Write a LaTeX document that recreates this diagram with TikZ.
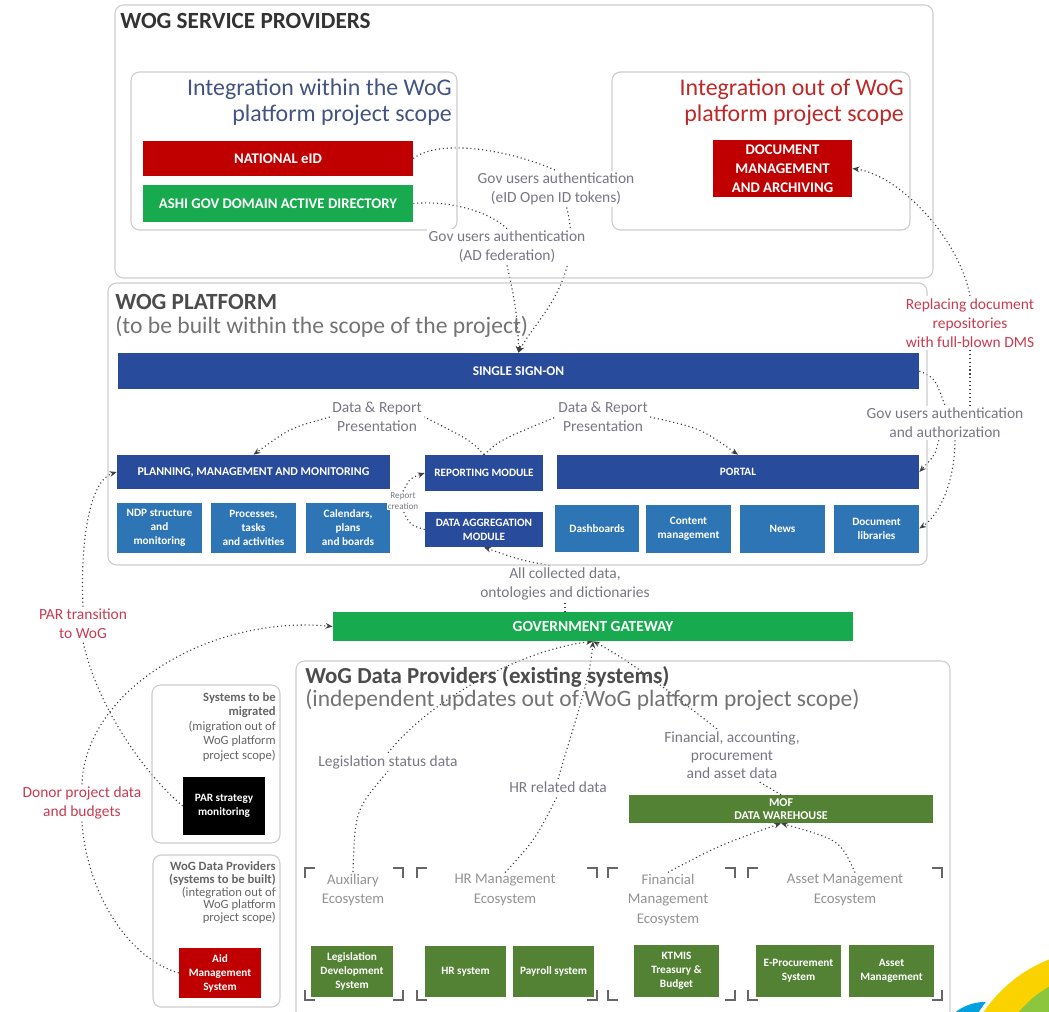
\documentclass[tikz,border=0pt]{standalone}
\usepackage{fontspec}
\setmainfont{Carlito}
\usetikzlibrary{arrows.meta,backgrounds}
\pgfdeclarelayer{paper}
\pgfsetlayers{paper,background,main}
\definecolor{wogblue}{RGB}{41, 75, 155}
\definecolor{subblue}{RGB}{46, 117, 182}
\definecolor{wogred}{RGB}{192, 0, 0}
\definecolor{woggreen}{RGB}{24, 170, 78}
\definecolor{mofgreen}{RGB}{84, 130, 53}
\definecolor{framegray}{RGB}{205, 205, 205}
\definecolor{labelgray}{RGB}{120, 120, 132}
\definecolor{labelred}{RGB}{200, 60, 80}
\definecolor{slate}{RGB}{68, 84, 130}
\definecolor{titlered}{RGB}{192, 40, 40}
\definecolor{logoyellow}{RGB}{250, 210, 0}
\definecolor{logogreen}{RGB}{140, 198, 63}
\definecolor{logoblue}{RGB}{0, 160, 225}
\tikzset{
  scopebox/.style={draw=framegray, line width=0.8pt, rounded corners=6pt},
  wh/.style 2 args={minimum width=#1cm, minimum height=#2cm},
  sysbox/.style={text=white, align=center, inner sep=1pt, font=\bfseries\fontsize{8}{10}\selectfont},
  lbl/.style={text=labelgray, align=center, fill=white, inner sep=1.5pt, font=\fontsize{11}{13.5}\selectfont},
  redlbl/.style={lbl, text=labelred},
  ecolbl/.style={text=gray!85, align=center, inner sep=1pt, font=\fontsize{10.5}{14}\selectfont},
  conn/.style={dotted, line width=0.8pt, black!75},
  arr/.style={conn, -{Stealth[length=5pt,width=4pt]}},
  corner/.style={line width=1.6pt, black!60},
}
\newcommand{\ecocorners}[4]{%
  \draw[corner] (#1,#2+10) -- (#1,#2) -- (#1+10,#2);
  \draw[corner] (#3-10,#2) -- (#3,#2) -- (#3,#2+10);
  \draw[corner] (#1,#4-10) -- (#1,#4) -- (#1+10,#4);
  \draw[corner] (#3-10,#4) -- (#3,#4) -- (#3,#4-10);
}
\begin{document}
\begin{tikzpicture}[x=0.025cm, y=-0.025cm]
  \useasboundingbox (0,0) rectangle (1049,1011);
  \begin{pgfonlayer}{paper}
    \fill[white] (0,0) rectangle (1049,1011);
  \end{pgfonlayer}
  % WoG service providers
  \draw[scopebox] (115,5) rectangle (933,278);
  \node[anchor=west, inner sep=0, text=black!80, font=\bfseries\fontsize{16.5}{18}\selectfont] (svctitle) at (120,21) {WOG SERVICE PROVIDERS};
  \draw[scopebox] (131,72) rectangle (457,230);
  \node[anchor=east, inner sep=0, align=right, text=slate, font=\fontsize{17}{18.5}\selectfont] (intitle) at (452,102) {Integration within the WoG\\platform project scope};
  \node[sysbox, wh={6.75}{0.875}, fill=wogred, font=\bfseries\fontsize{10.5}{12}\selectfont] (eid) at (278,158.5) {NATIONAL eID};
  \node[sysbox, wh={6.75}{0.925}, fill=woggreen, font=\bfseries\fontsize{10.5}{12}\selectfont] (ad) at (278,203.5) {ASHI GOV DOMAIN ACTIVE DIRECTORY};
  \draw[scopebox] (612,72) rectangle (910,230);
  \node[anchor=east, inner sep=0, align=right, text=titlered, font=\fontsize{17}{18.5}\selectfont] (outtitle) at (904,102) {Integration out of WoG\\platform project scope};
  \node[sysbox, wh={3.475}{1.425}, fill=wogred, font=\bfseries\fontsize{10.5}{13.5}\selectfont] (dms) at (782.5,168.5) {DOCUMENT\\MANAGEMENT\\AND ARCHIVING};
  \node[lbl] (lbleid) at (556,189) {Gov users authentication\\(eID Open ID tokens)};
  \node[lbl] (lblad) at (507,247) {Gov users authentication\\(AD federation)};
  % WoG platform
  \draw[scopebox] (108,283) rectangle (927,565);
  \node[anchor=west, inner sep=0, text=black!70, font=\bfseries\fontsize{16.5}{18}\selectfont] (plattitle) at (115,302) {WOG PLATFORM};
  \node[anchor=west, inner sep=0, text=black!55, font=\fontsize{16.8}{19}\selectfont] (platsub) at (115,327) {(to be built within the scope of the project)};
  \node[sysbox, wh={20.025}{0.9}, fill=wogblue, font=\bfseries\fontsize{9.5}{11}\selectfont] (sso) at (518.5,371) {SINGLE SIGN-ON};
  \node[sysbox, wh={6.825}{0.85}, fill=wogblue, font=\bfseries\fontsize{8.5}{10}\selectfont] (plan) at (253.5,472) {PLANNING, MANAGEMENT AND MONITORING};
  \node[sysbox, wh={2.95}{0.9}, fill=wogblue] (rep) at (484,473) {REPORTING MODULE};
  \node[sysbox, wh={9.05}{0.85}, fill=wogblue] (portal) at (738,472) {PORTAL};
  \node[sysbox, wh={2.125}{1.25}, fill=subblue] (ndp) at (159.5,528) {NDP structure\\and\\monitoring};
  \node[sysbox, wh={2.125}{1.25}, fill=subblue] (procs) at (253.5,528) {Processes,\\tasks\\and activities};
  \node[sysbox, wh={2.1}{1.25}, fill=subblue] (cals) at (348,528) {Calendars,\\plans\\and boards};
  \node[sysbox, wh={2.95}{0.875}, fill=wogblue] (dam) at (484,529.5) {DATA AGGREGATION\\MODULE};
  \node[sysbox, wh={2.1}{1.175}, fill=subblue] (dash) at (597,528.5) {Dashboards};
  \node[sysbox, wh={2.125}{1.2}, fill=subblue] (cms) at (688.5,528.5) {Content\\management};
  \node[sysbox, wh={2.125}{1.2}, fill=subblue] (news) at (782.5,528.5) {News};
  \node[sysbox, wh={2.125}{1.2}, fill=subblue] (doclib) at (876.5,528.5) {Document\\libraries};
  \node[lbl] (lblpres1) at (377,417) {Data \& Report\\Presentation};
  \node[lbl] (lblpres2) at (603,417) {Data \& Report\\Presentation};
  \node[lbl, inner sep=0.5pt, font=\fontsize{6.5}{8}\selectfont] (lblrep) at (403,501) {Report\\creation};
  \node[lbl] (lblauth) at (945,423) {Gov users authentication\\and authorization};
  \node[redlbl] (lbldms) at (970,323) {Replacing document\\repositories\\with full-blown DMS};
  % Gateway
  \node[sysbox, wh={13}{0.725}, fill=woggreen, font=\bfseries\fontsize{11}{13}\selectfont] (gw) at (593,626.5) {GOVERNMENT GATEWAY};
  \node[lbl] (lblall) at (565,584) {All collected data,\\ontologies and dictionaries};
  \node[redlbl] (lblpar) at (83,624) {PAR transition\\to WoG};
  \node[redlbl] (lbldonor) at (82,803) {Donor project data\\and budgets};
  % Systems outside the platform
  \draw[scopebox] (152,685) rectangle (280,843);
  \node[anchor=north east, inner sep=0, align=right, text=black!60, font=\fontsize{9}{10.3}\selectfont] (migrtxt) at (276,692) {\textbf{Systems to be}\\\textbf{migrated}\\(migration out of\\WoG platform\\project scope)};
  \node[sysbox, wh={2.05}{1.45}, fill=black] (parmon) at (224,806) {PAR strategy\\monitoring};
  \draw[scopebox] (153,855) rectangle (280,1007);
  \node[anchor=north east, inner sep=0, align=right, text=black!60, font=\fontsize{9}{9.2}\selectfont] (builttxt) at (276,861) {\textbf{WoG Data Providers}\\\textbf{(systems to be built)}\\(integration out of\\WoG platform\\project scope)};
  \node[sysbox, wh={2.05}{1.25}, fill=wogred] (aid) at (220,973) {Aid\\Management\\System};
  % WoG data providers
  \draw[scopebox] (296,661) rectangle (950,1040);
  \node[anchor=west, inner sep=0, text=black!70, font=\bfseries\fontsize{16.3}{18}\selectfont] (provtitle) at (305,677) {WoG Data Providers (existing systems)};
  \node[anchor=west, inner sep=0, text=black!55, font=\fontsize{16.7}{19}\selectfont] (provsub) at (305,700) {(independent updates out of WoG platform project scope)};
  \node[sysbox, wh={7.6}{0.7}, fill=mofgreen, font=\bfseries\fontsize{8.5}{9.5}\selectfont] (mofdw) at (781,809) {MOF\\DATA WAREHOUSE};
  \node[lbl] (lblleg) at (388,762) {Legislation status data};
  \node[lbl] (lblhr) at (558,787) {HR related data};
  \node[lbl, font=\fontsize{11}{13}\selectfont] (lblfin) at (732,755) {Financial, accounting,\\procurement\\and asset data};
  % Ecosystems
  \ecocorners{305}{868}{403}{1000}
  \node[ecolbl] (auxeco) at (353,890) {Auxiliary\\Ecosystem};
  \ecocorners{417}{868}{597}{1000}
  \node[ecolbl] (hreco) at (505,890) {HR Management\\Ecosystem};
  \ecocorners{608}{868}{735}{1000}
  \node[ecolbl] (fineco) at (668,900) {Financial\\Management\\Ecosystem};
  \ecocorners{748}{868}{942}{1000}
  \node[ecolbl] (asseteco) at (845,890) {Asset Management\\Ecosystem};
  \node[sysbox, wh={2.05}{1.275}, fill=mofgreen] (legis) at (352,971.5) {Legislation\\Development\\System};
  \node[sysbox, wh={2.025}{1.275}, fill=mofgreen] (hrsys) at (465.5,971.5) {HR system};
  \node[sysbox, wh={2.025}{1.275}, fill=mofgreen] (payroll) at (553.5,971.5) {Payroll system};
  \node[sysbox, wh={2.125}{1.3}, fill=mofgreen] (ktmis) at (676.5,971) {KTMIS\\Treasury \&\\Budget};
  \node[sysbox, wh={2.125}{1.3}, fill=mofgreen] (eproc) at (798.5,971) {E-Procurement\\System};
  \node[sysbox, wh={2.125}{1.3}, fill=mofgreen] (assetm) at (891.5,971) {Asset\\Management};
  % Connectors
  \begin{pgfonlayer}{background}
    \draw[conn] (eid.east) .. controls (440,138) and (510,150) .. (lbleid.north);
    \draw[arr] (lbleid.-60) .. controls (585,280) and (535,320) .. (sso.north);
    \draw[conn] (ad.east) .. controls (450,200) and (490,212) .. (lblad.north);
    \draw[arr] (lblad.south) .. controls (515,300) and (518,320) .. (sso.north);
    \draw[arr] (lbldms.north) .. controls (960,240) and (900,175) .. (dms.east);
    \draw[conn] (lbldms.south) -- (lbldms.south |- lblauth.north);
    \draw[conn] (sso.east) .. controls (935,378) .. (lblauth.north);
    \draw[arr] (lblauth.-110) .. controls (935,455) .. (portal.east);
    \draw[arr] (lblauth.-60) .. controls (955,480) and (940,515) .. (doclib.east);
    \draw[conn] (rep.north) .. controls (470,440) .. (lblpres1.east);
    \draw[arr] (lblpres1.west) .. controls (290,428) .. (plan.north);
    \draw[conn] (rep.north) .. controls (500,440) .. (lblpres2.west);
    \draw[arr] (lblpres2.east) .. controls (700,428) .. (portal.north);
    \draw[conn] (dam.west) .. controls (410,525) .. (lblrep.south);
    \draw[arr] (lblrep.north) .. controls (410,478) .. (rep.west);
    \draw[conn] (lblall.south |- gw.north) -- (lblall.south);
    \draw[arr] (lblall.130) .. controls (520,560) .. (dam.south);
    \draw[conn] (parmon.west) .. controls (140,770) and (95,700) .. (lblpar.south);
    \draw[arr] (lblpar.north) .. controls (80,540) and (90,480) .. (plan.west);
    \draw[conn] (aid.west) .. controls (120,955) and (85,880) .. (lbldonor.south);
    \draw[arr] (lbldonor.north) .. controls (85,690) and (210,615) .. (gw.west);
    \draw[conn] (auxeco.north) .. controls (355,810) .. (lblleg.south);
    \draw[arr] (lblleg.north) .. controls (430,700) and (520,650) .. (gw.south);
    \draw[conn] (hreco.north) .. controls (535,840) .. (lblhr.south);
    \draw[arr] (lblhr.north) .. controls (575,720) and (590,680) .. (gw.south);
    \draw[arr] (lblfin.120) .. controls (680,700) and (630,660) .. (gw.south);
    \draw[conn] (mofdw.north) -- (lblfin.-45);
    \draw[arr] (fineco.north) .. controls (720,845) .. (mofdw.south);
    \draw[arr] (asseteco.60) .. controls (840,840) .. (mofdw.south);
  \end{pgfonlayer}
  % Logo corner
  \begin{scope}
    \clip (0,0) rectangle (1049,1011);
    \fill[logoblue] (985,1050) circle (1.2cm);
    \fill[white] (1100,1090) circle (3.6cm);
    \fill[logoyellow] (1100,1090) circle (3.5cm);
    \fill[logogreen] (1110,1090) circle (3cm);
  \end{scope}
\end{tikzpicture}
\end{document}
